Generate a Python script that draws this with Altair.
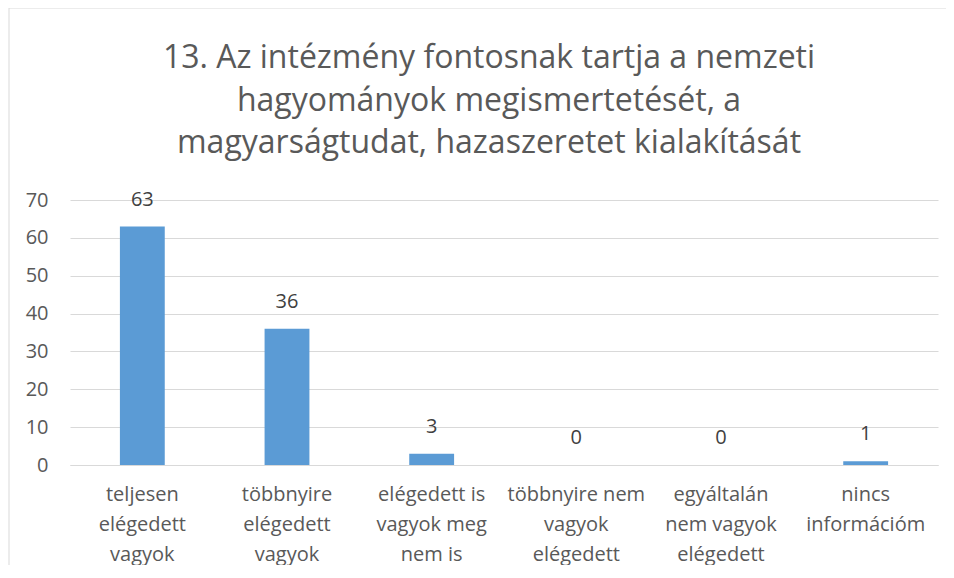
import altair as alt
import pandas as pd

categories = [
    "teljesen\nelégedett\nvagyok",
    "többnyire\nelégedett\nvagyok",
    "elégedett is\nvagyok meg\nnem is",
    "többnyire nem\nvagyok\nelégedett",
    "egyáltalán\nnem vagyok\nelégedett",
    "nincs\ninformációm",
]
values = [63, 36, 3, 0, 0, 1]
title_lines = [
    "13. Az intézmény fontosnak tartja a nemzeti",
    "hagyományok megismertetését, a",
    "magyarságtudat, hazaszeretet kialakítását",
]
y_ticks = [0, 10, 20, 30, 40, 50, 60, 70]

df = pd.DataFrame({"cat": categories, "val": values})

FONT = "Open Sans"
GREY = "#595959"

x_enc = alt.X(
    "cat:N",
    sort=None,
    title=None,
    scale=alt.Scale(paddingInner=0.69, paddingOuter=0.345),
    axis=alt.Axis(
        labelExpr="split(datum.label, '\\n')",
        labelAngle=0,
        labelFont=FONT,
        labelFontSize=20,
        labelColor=GREY,
        labelLineHeight=30,
        labelPadding=19,
        labelBaseline="top",
        ticks=False,
        domainColor="#d9d9d9",
        domainWidth=1,
        grid=False,
    ),
)
y_enc = alt.Y(
    "val:Q",
    title=None,
    scale=alt.Scale(domain=[0, 70], nice=False),
    axis=alt.Axis(
        values=y_ticks,
        labelFont=FONT,
        labelFontSize=20,
        labelColor=GREY,
        labelPadding=22,
        ticks=False,
        domain=False,
        gridColor="#d9d9d9",
        gridWidth=1,
    ),
)

bars = alt.Chart(df).mark_bar(color="#5B9BD5").encode(x=x_enc, y=y_enc)
labels = alt.Chart(df).mark_text(
    font=FONT, fontSize=20, color="#404040", baseline="middle", dy=-27
).encode(x=x_enc, y=y_enc, text="val:Q")

border = alt.Chart(pd.DataFrame({"a": [0]})).mark_rect(
    filled=False, stroke="#d9d9d9", strokeWidth=1, clip=False
).encode(
    x=alt.value(-61), x2=alt.value(877), y=alt.value(-192), y2=alt.value(600)
)

title = alt.Chart(pd.DataFrame({"a": [0]})).mark_text(
    font=FONT,
    fontSize=32,
    color=GREY,
    lineHeight=42.5,
    align="center",
    baseline="middle",
).encode(
    x=alt.value(419), y=alt.value(-142), text=alt.value(title_lines)
)

chart = (
    alt.layer(border, bars, labels, title)
    .properties(
        width=868,
        height=265,
        padding={"left": 62, "top": 192, "right": 8, "bottom": 100},
        autosize=alt.AutoSizeParams(type="none"),
    )
    .configure_view(stroke=None)
)

chart.save("out.html", embed_options={"renderer": "svg", "actions": False})
